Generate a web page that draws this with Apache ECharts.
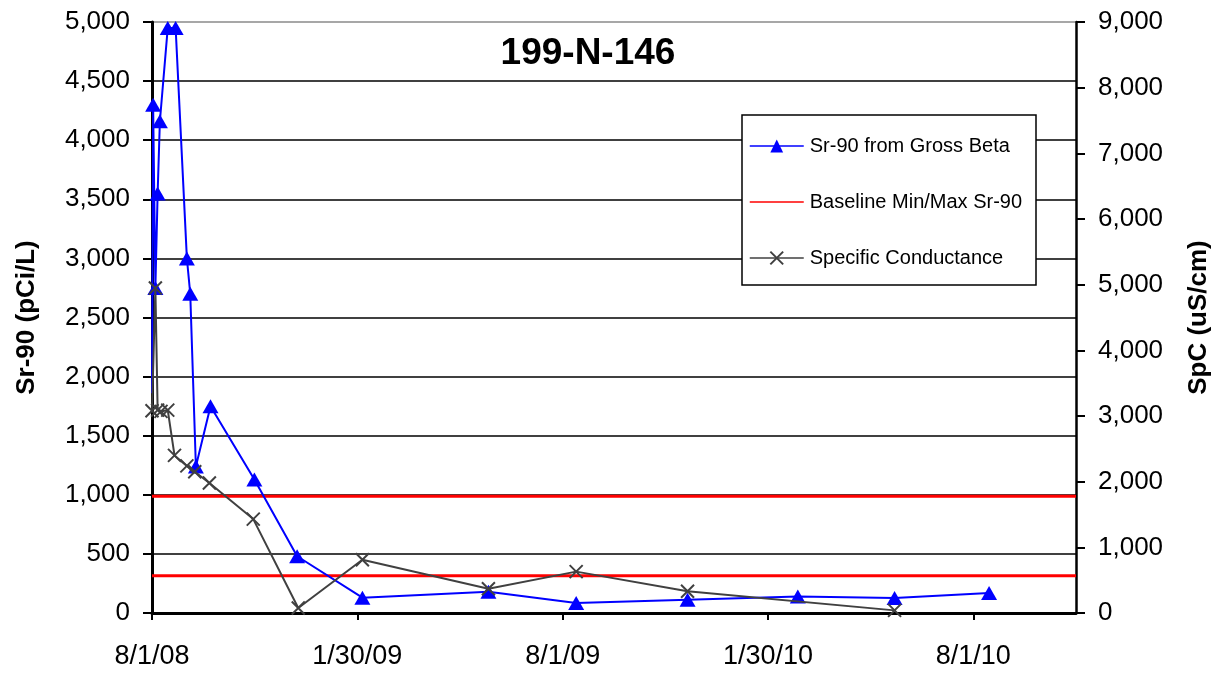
<!DOCTYPE html>
<html>
<head>
<meta charset="utf-8">
<title>199-N-146</title>
<script src="https://cdn.jsdelivr.net/npm/echarts@6/dist/echarts.min.js"></script>
<style>
  html, body { margin: 0; padding: 0; background: #fff; }
  #chart { width: 1221px; height: 673px; }
</style>
</head>
<body>
<div id="chart"></div>
<script>
// Well 199-N-146: Sr-90 (from gross beta) and specific conductance over time.

const chartTitle = '199-N-146';
const startDate = '2008-08-01';          // x axis origin
const xAxisSpanDays = 821.25;            // 4.5 half-year steps
const xTickStepDays = 182.5;             // half-year ticks

// Sr-90 from Gross Beta (pCi/L)
const sr90Dates = [
  '2008-08-01', '2008-08-02', '2008-08-04', '2008-08-06', '2008-08-08',
  '2008-08-15', '2008-08-22', '2008-09-01', '2008-09-04', '2008-09-09',
  '2008-09-22', '2008-10-31', '2008-12-08', '2009-02-04', '2009-05-27',
  '2009-08-13', '2009-11-20', '2010-02-26', '2010-05-23', '2010-08-15'
];
const sr90Values = [
  1860, 4300, 2750, 3550, 4160,
  4950, 4950, 3000, 2700, 1240,
  1750, 1130, 480, 130, 180,
  85, 112, 140, 127, 169
];
// the first sample is drawn without a marker
const sr90Unmarked = [0];

// Baseline Min/Max Sr-90 (pCi/L)
const baselineSr90 = [315, 988];

// Specific Conductance (uS/cm)
const spcDates = [
  '2008-08-01', '2008-08-04', '2008-08-06', '2008-08-09', '2008-08-15',
  '2008-08-21', '2008-09-01', '2008-09-08', '2008-09-21', '2008-10-30',
  '2008-12-09', '2009-02-04', '2009-05-27', '2009-08-13', '2009-11-20',
  '2010-05-23'
];
const spcValues = [
  3080, 4950, 3090, 3070, 3090,
  2400, 2240, 2150, 1980, 1430,
  75, 810, 370, 630, 330,
  40
];

const leftAxisName = 'Sr-90 (pCi/L)';
const rightAxisName = 'SpC (uS/cm)';

const DAY = 86400000;
const t0 = Date.parse(startDate + 'T00:00:00Z');
const dayOffset = d => (Date.parse(d + 'T00:00:00Z') - t0) / DAY;

function dateLabel(v) {
  if (Math.abs(v / xTickStepDays - Math.round(v / xTickStepDays)) > 1e-6) return '';
  const dt = new Date(t0 + Math.floor(v + 1e-6) * DAY);
  const yy = String(dt.getUTCFullYear() % 100).padStart(2, '0');
  return (dt.getUTCMonth() + 1) + '/' + dt.getUTCDate() + '/' + yy;
}
const commas = v => Number(v).toLocaleString('en-US');

const FONT = 'Liberation Sans, Arial, Helvetica, sans-serif';
const crossPath = 'path://M0,0L10,10M10,0L0,10';

const sr90Data = sr90Dates.map((d, i) => {
  const item = { value: [dayOffset(d), sr90Values[i]] };
  if (sr90Unmarked.includes(i)) item.symbol = 'none';
  return item;
});
const spcData = spcDates.map((d, i) => [dayOffset(d), spcValues[i]]);

// each baseline level is a flat line across the whole time range
const baselineSeries = baselineSr90.map(v => ({
  name: 'Baseline Min/Max Sr-90',
  type: 'line',
  yAxisIndex: 0,
  data: [[0, v], [xAxisSpanDays, v]],
  symbol: 'none',
  color: '#ff0000',
  lineStyle: { color: '#ff0000', width: 3 },
  silent: true,
  z: 2
}));

const chart = echarts.init(document.getElementById('chart'), null, { renderer: 'canvas' });

const gridColors = [];
for (let i = 0; i < 10; i++) gridColors.push('#000');
gridColors.push('#8a8a8a');

chart.setOption({
  animation: false,
  backgroundColor: '#fff',
  title: {
    text: chartTitle,
    left: 583,
    textAlign: 'center',
    top: 30,
    textStyle: { fontFamily: FONT, fontSize: 37, fontWeight: 'bold', color: '#000' }
  },
  grid: { left: 152, right: 145, top: 22, bottom: 60, containLabel: false },
  graphic: [{
    type: 'rect',
    z: 3,
    shape: { x: 742, y: 115, width: 294, height: 170 },
    style: { fill: '#fff', stroke: '#000', lineWidth: 1.5 }
  }],
  legend: {
    z: 4,
    orient: 'vertical',
    left: 749,
    top: 136,
    itemWidth: 54,
    itemHeight: 16,
    itemGap: 36,
    padding: 0,
    data: [
      'Sr-90 from Gross Beta',
      // plain line, no marker
      { name: 'Baseline Min/Max Sr-90', itemStyle: { opacity: 0 } },
      'Specific Conductance'
    ],
    lineStyle: { width: 1.5 },
    textStyle: { fontFamily: FONT, fontSize: 20, color: '#000', padding: [0, 0, 0, 1] }
  },
  xAxis: {
    type: 'value',
    min: 0,
    max: xAxisSpanDays,
    interval: xTickStepDays,
    axisLine: { show: true, onZero: false, lineStyle: { color: '#000', width: 3 } },
    axisTick: { show: true, inside: false, length: 7, lineStyle: { color: '#000', width: 2 } },
    axisLabel: { fontFamily: FONT, fontSize: 27, color: '#000', margin: 30, formatter: dateLabel, showMaxLabel: false },
    splitLine: { show: false }
  },
  yAxis: [{
    type: 'value',
    position: 'left',
    min: 0,
    max: 5000,
    interval: 500,
    name: leftAxisName,
    nameLocation: 'middle',
    nameGap: 112,
    nameTextStyle: { fontFamily: FONT, fontSize: 26, fontWeight: 'bold', color: '#000' },
    axisLine: { show: true, lineStyle: { color: '#000', width: 3 } },
    axisTick: { show: true, inside: false, length: 9, lineStyle: { color: '#000', width: 2 } },
    axisLabel: { fontFamily: FONT, fontSize: 26, color: '#000', margin: 22, formatter: commas },
    splitLine: { show: true, lineStyle: { color: gridColors, width: 1.6 } }
  }, {
    type: 'value',
    position: 'right',
    min: 0,
    max: 9000,
    interval: 1000,
    name: rightAxisName,
    nameLocation: 'middle',
    nameGap: 110,
    nameTextStyle: { fontFamily: FONT, fontSize: 26, fontWeight: 'bold', color: '#000' },
    axisLine: { show: true, lineStyle: { color: '#000', width: 2.5 } },
    axisTick: { show: true, inside: false, length: 9, lineStyle: { color: '#000', width: 2 } },
    axisLabel: { fontFamily: FONT, fontSize: 26, color: '#000', margin: 22, formatter: commas },
    splitLine: { show: false }
  }],
  series: baselineSeries.concat([{
    name: 'Sr-90 from Gross Beta',
    type: 'line',
    yAxisIndex: 0,
    data: sr90Data,
    symbol: 'triangle',
    symbolSize: [16, 14],
    color: '#0000ff',
    itemStyle: { color: '#0000ff' },
    lineStyle: { color: '#0000ff', width: 2 },
    z: 3
  }, {
    name: 'Specific Conductance',
    type: 'line',
    yAxisIndex: 1,
    data: spcData,
    symbol: crossPath,
    symbolSize: 13,
    color: '#404040',
    itemStyle: { color: '#404040', borderColor: '#404040', borderWidth: 2 },
    lineStyle: { color: '#404040', width: 2 },
    z: 4
  }])
});
</script>
</body>
</html>
